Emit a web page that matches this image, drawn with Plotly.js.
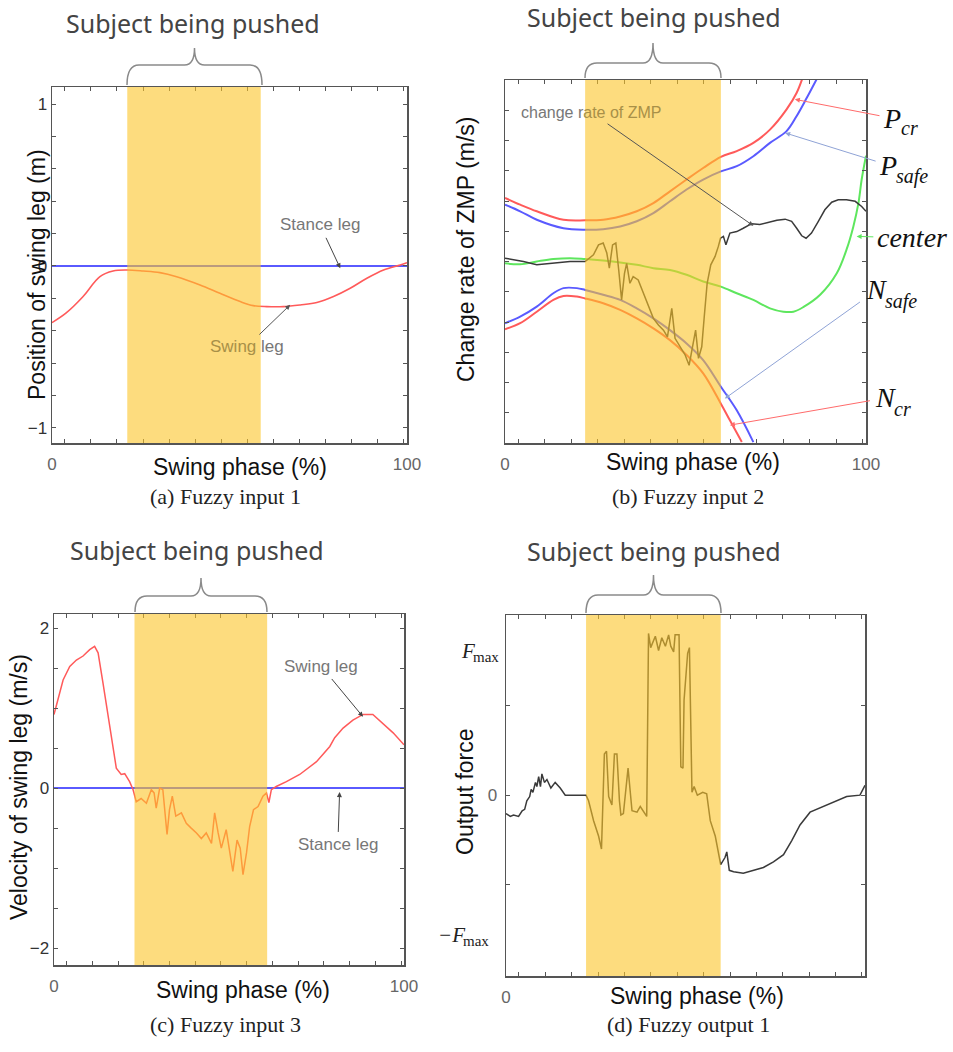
<!DOCTYPE html>
<html><head><meta charset="utf-8">
<script src="https://cdn.plot.ly/plotly-3.0.1.min.js"></script>
<style>html,body{margin:0;padding:0;background:#fff;}#chart{width:953px;height:1052px;}</style>
</head><body><div id="chart"></div>
<script>
// ================= DATA =================
// (a) Fuzzy input 1 : position of swing leg (m)
const phaseA = [0,4.0,8.7,13.5,17.2,21.0,25.7,30.4,35.1,41.7,47.3,53.0,56.7,60.5,65.2,69.9,74.6,79.3,84.0,88.7,93.4,98.1,100];
const swingPosA = [-0.35,-0.29,-0.19,-0.066,-0.031,-0.025,-0.031,-0.041,-0.066,-0.117,-0.169,-0.22,-0.245,-0.251,-0.251,-0.241,-0.226,-0.189,-0.138,-0.076,-0.025,0.006,0.02];
const stancePhase = [0,100];
const stancePosA = [0,0];
const pushA = [21.2,58.8];

// (b) Fuzzy input 2 : change rate of ZMP (m/s)
const pcrX = [0,4.2,8.8,16.2,22.2,27.2,31.9,36.5,41.1,45.7,50.3,54.9,59.8,64.2,68.8,73.4,78.0,80.8,82.6];
const pcrY = [2.10,1.88,1.66,1.38,1.36,1.38,1.49,1.66,1.93,2.32,2.71,3.09,3.46,3.65,3.92,4.36,5.03,5.58,6.13];
const psafeX = [0,4.2,8.8,16.2,22.2,27.2,31.9,36.5,41.1,45.7,50.3,54.9,59.8,64.2,68.8,73.4,78.0,80.8,83.6,86.3];
const psafeY = [1.88,1.66,1.38,1.10,1.05,1.07,1.16,1.33,1.60,1.99,2.38,2.71,2.98,3.15,3.48,3.92,4.31,4.81,5.41,6.02];
const nsafeX = [0,4.2,8.8,13.4,16.2,19.9,22.2,27.2,31.9,36.5,41.1,45.7,50.3,54.9,59.8,64.2,68.8];
const nsafeY = [-2.04,-1.82,-1.49,-1.05,-0.88,-0.88,-0.94,-1.10,-1.27,-1.55,-1.88,-2.27,-2.71,-3.26,-4.14,-4.92,-5.97];
const ncrX = [0,4.2,8.8,13.4,16.2,19.9,22.2,27.2,31.9,36.5,41.1,45.7,50.3,54.9,59.8,62.3,65.6];
const ncrY = [-2.24,-2.04,-1.66,-1.27,-1.14,-1.16,-1.22,-1.38,-1.60,-1.88,-2.21,-2.60,-3.09,-3.70,-4.70,-5.25,-5.97];
const centerX = [0,4.2,8.8,13.4,18.0,22.2,27.2,31.9,36.5,41.1,45.7,50.3,54.9,59.8,64.2,68.8,73.4,77.1,79.9,82.6,87.3,91.9,94.6,96.5,97.9,98.8,100];
const centerY = [-0.06,-0.09,0,0.08,0.11,0.08,0.03,-0.03,-0.11,-0.22,-0.28,-0.44,-0.66,-0.83,-1.05,-1.27,-1.55,-1.66,-1.66,-1.51,-1.10,-0.39,0.39,1.16,1.93,2.71,3.50];
const zmpX = [0,2.3,5.1,8.8,13.4,18.0,22.2,24.5,25.9,27.2,28.2,28.9,29.8,30.7,31.5,32.3,33.1,33.7,34.6,35.5,36.9,38.3,39.7,41.1,42.5,43.9,45.0,46.2,47.1,48.5,49.9,51.0,52.0,52.8,53.6,54.5,55.2,56.0,57.0,58.2,59.1,59.7,60.5,61.2,62.3,64.2,66.0,68.3,70.6,72.9,75.3,77.6,79.4,80.8,82.2,83.4,84.9,86.8,88.6,90.5,92.3,94.6,97.0,98.8,100];
const zmpY = [0.11,0.06,0,-0.11,-0.06,0,0,0.22,0.55,0.61,0.28,-0.22,0.55,0.61,-0.28,-1.27,-0.39,-0.06,-0.72,-0.50,-0.61,-1.05,-1.49,-1.88,-2.10,-2.27,-2.49,-1.55,-2.54,-2.82,-3.09,-3.43,-2.82,-2.27,-3.20,-2.82,-1.82,-0.72,-0.11,0.17,0.50,0.77,0.83,0.55,0.94,0.99,1.10,1.25,1.22,1.29,1.36,1.40,1.33,1.10,0.85,0.77,0.94,1.33,1.71,1.96,2.04,2.04,1.99,1.82,1.66];
const pushB = [22.2,59.8];

// (c) Fuzzy input 3 : velocity of swing leg (m/s)
const phaseC = [0,1.1,2.6,4.5,6.4,8.3,10.2,11.6,12.6,14.0,15.4,16.9,17.8,19.2,20.2,21.6,22.6,23.5,24.9,26.4,27.8,28.6,29.2,30.2,31.1,32.3,33.0,33.8,34.8,36.4,37.8,39.2,40.7,42.1,43.5,45.0,45.9,46.9,47.8,49.2,50.2,51.1,52.3,53.2,54.0,55.0,55.9,57.0,58.3,59.7,60.7,61.4,62.1,63.5,66.4,70.2,75.0,78.8,80.2,82.6,85.4,88.3,91.1,94.0,96.9,100];
const swingVelC = [0.92,1.10,1.35,1.52,1.60,1.65,1.73,1.77,1.69,1.31,0.90,0.48,0.25,0.17,0.18,0.08,-0.02,-0.17,-0.13,-0.19,-0.02,-0.06,-0.25,0,-0.02,-0.58,-0.27,-0.10,-0.35,-0.31,-0.44,-0.50,-0.56,-0.63,-0.56,-0.69,-0.31,-0.56,-0.75,-0.52,-0.81,-1.04,-0.65,-0.75,-1.08,-0.81,-0.48,-0.27,-0.23,-0.10,-0.06,-0.18,-0.02,0.02,0.08,0.17,0.33,0.52,0.63,0.75,0.85,0.92,0.92,0.81,0.69,0.54];
const stanceVelC = [0,0];
const pushC = [23.0,60.9];

// (d) Fuzzy output 1 : output force (units of F_max)
const phaseD = [0,1.2,2.1,3.5,4.5,5.2,5.8,6.6,7.0,7.5,8.2,8.6,9.1,9.6,10.0,10.7,11.4,12.5,13.7,15.1,16.5,22.3,23.0,24.4,25.8,26.6,27.4,28.0,28.6,29.5,30.2,30.9,31.6,32.0,32.7,34.0,35.1,36.5,37.4,39.2,39.7,40.3,41.6,42.5,43.4,44.4,45.3,45.9,46.7,47.1,48.2,48.7,49.3,49.6,50.6,51.1,51.8,52.4,53.3,54.8,55.9,56.9,58.3,59.2,59.8,61.0,61.5,62.2,63.4,66.1,68.9,71.7,74.5,77.3,79.6,81.9,84.7,88.4,92.6,94.9,98.6,99.5,100];
const forceD = [-0.13,-0.15,-0.14,-0.15,-0.11,-0.10,-0.04,-0.01,0.04,0.02,0.09,0.06,0.13,0.06,0.15,0.09,0.11,0.05,0.09,0.05,0,0,-0.04,-0.18,-0.29,-0.38,0.29,0.31,-0.01,-0.07,0.29,0.29,-0.04,-0.14,-0.13,0.19,-0.11,-0.12,-0.08,-0.15,1.14,1.04,1.12,1.02,1.11,1.05,1.13,1.05,1.01,1.13,1.13,0.20,0.19,0.67,1.00,1.04,0.02,0.06,0,0.02,0.01,-0.18,-0.29,-0.41,-0.49,-0.44,-0.40,-0.53,-0.54,-0.55,-0.53,-0.51,-0.47,-0.42,-0.32,-0.21,-0.12,-0.08,-0.03,-0.01,0,0.05,0.07];
const pushD = [22.3,59.8];

// tick labels
const xTickVals = [0,100];
const xTickText = ['0','100'];
const xTickValsD = [0];
const xTickTextD = ['0'];
const yTickValsA = [-1,0,1];
const yTickTextA = ['\u22121','0','1'];
const yTickValsC = [-2,0,2];
const yTickTextC = ['\u22122','0','2'];
const yTickValsD = [0];
const yTickTextD = ['0'];
const fmaxLabelVals = [1,-1];          // drawn as F / max pairs beside the axis
const fmaxLabelMain = ['F','\u2212F'];

// ================= LAYOUT HELPERS =================
const W = 953, H = 1052;
const X = p => p / W;
const Y = p => 1 - p / H;
function steps(start, step, end) {
  const v = [];
  for (let t = start; t <= end + 1e-9; t += step) v.push(Math.round(t * 1000) / 1000);
  return v;
}
const RED = '#ff5a5a', BLUE = '#5a5aff', GREEN = '#5ee65e', DARK = '#3a3a3a';
const boxAxis = {showline: true, mirror: 'ticks', linecolor: '#555', linewidth: 1.5, ticks: 'inside', ticklen: 4, tickcolor: '#555', tickwidth: 1, showgrid: false, zeroline: false, fixedrange: true, tickmode: 'array'};
function minorTicks(vals) { return {tickmode: 'array', tickvals: vals, ticks: 'inside', ticklen: 4, tickcolor: '#555', tickwidth: 1, showgrid: false}; }
function xAx(domain, anchor, vals, text) {
  return Object.assign({}, boxAxis, {domain, anchor, range: [0, 100], tickvals: vals, ticktext: text, ticklen: 0,
    minor: minorTicks(steps(3.6, 7.35, 99.9)), ticklabelstandoff: 5, tickfont: {family: 'Liberation Sans', size: 17, color: '#666'}});
}
function yAx(domain, anchor, range, vals, text, minorVals, font) {
  return Object.assign({}, boxAxis, {domain, anchor, range, tickvals: vals, ticktext: text, minor: minorTicks(minorVals),
    tickfont: font || {family: 'Liberation Sans', size: 17, color: '#333'}});
}

const layout = {
  width: W, height: H, autosize: false, margin: {l: 0, r: 0, t: 0, b: 0},
  paper_bgcolor: '#fff', plot_bgcolor: '#fff', showlegend: false,
  font: {family: 'Liberation Sans', color: '#222'},
  xaxis: xAx([X(52), X(407)], 'y', xTickVals, xTickText),
  yaxis: yAx([Y(443), Y(87)], 'x', [-1.093, 1.105], yTickValsA, yTickTextA, steps(-1, 0.2, 1)),
  xaxis2: xAx([X(505), X(866)], 'y2', xTickVals, xTickText),
  yaxis2: yAx([Y(443), Y(80)], 'x2', [-6, 6], [], [], steps(-6, 1, 6)),
  xaxis3: xAx([X(54), X(404)], 'y3', xTickVals, xTickText),
  yaxis3: yAx([Y(965), Y(614)], 'x3', [-2.21, 2.175], yTickValsC, yTickTextC, steps(-2, 0.5, 2)),
  xaxis4: xAx([X(506), X(865)], 'y4', xTickValsD, xTickTextD),
  yaxis4: yAx([Y(976), Y(615)], 'x4', [-1.275, 1.27], yTickValsD, yTickTextD, [-0.63, 0, 0.63], {family: 'Liberation Sans', size: 17, color: '#666'}),
};
layout.yaxis2.showticklabels = false;
layout.yaxis4.ticklen = 0;
layout.yaxis4.ticklabelstandoff = 4;

// push-interval shading (semi-transparent, above the lines like the original)
function shade(xr, push, yr) {
  return {type: 'rect', xref: xr, yref: yr + ' domain', x0: push[0], x1: push[1], y0: 0, y1: 1, fillcolor: 'rgb(252,197,40)', opacity: 0.6, line: {width: 0}, layer: 'above'};
}
function brace(L, R, B, Hh, T) {
  const M = (L + R) / 2;
  const p = (x, y) => X(x) + ',' + Y(y);
  return {type: 'path', xref: 'paper', yref: 'paper', line: {color: '#8a8a8a', width: 1.5},
    path: `M ${p(L, B)} Q ${p(L, Hh)} ${p(L + 12, Hh)} L ${p(M - 10, Hh)} Q ${p(M, Hh)} ${p(M, T)} Q ${p(M, Hh)} ${p(M + 10, Hh)} L ${p(R - 12, Hh)} Q ${p(R, Hh)} ${p(R, B)}`};
}
layout.shapes = [
  shade('x', pushA, 'y'), shade('x2', pushB, 'y2'), shade('x3', pushC, 'y3'), shade('x4', pushD, 'y4'),
  brace(127, 262, 85, 65, 48), brace(585, 721, 78, 63, 43), brace(135, 267, 612, 596, 578), brace(586, 721, 613, 595, 575)
];

function P(px, py, text, o) {
  return Object.assign({xref: 'paper', yref: 'paper', x: X(px), y: Y(py), text, showarrow: false, xanchor: 'center', yanchor: 'middle'}, o || {});
}
// labelled arrow: text sits at (tx,ty), arrow points to (hx,hy)
function Lab(xa, ya, text, tx, ty, hx, hy, color, font, extra) {
  return Object.assign({xref: xa, yref: ya, x: hx, y: hy, ax: tx, ay: ty, axref: xa, ayref: ya, text, showarrow: true,
    arrowhead: 2, arrowsize: 1, arrowwidth: 1, arrowcolor: color, font, startstandoff: 2}, extra || {});
}
const subj = {font: {family: 'Noto Sans', size: 25, color: '#444'}};
const titleF = {family: 'Liberation Sans', size: 23, color: '#111'};
const capF = {family: 'Liberation Serif', size: 22, color: '#222'};
const labF = {family: 'Liberation Sans', size: 17, color: '#777'};
const symF = {family: 'Liberation Serif', size: 28, color: '#111', style: 'italic'};
const subF = {family: 'Liberation Serif', size: 20, color: '#111', style: 'italic'};
const fF = {family: 'Liberation Serif', size: 21, color: '#222', style: 'italic'};
const fSubF = {family: 'Liberation Serif', size: 15, color: '#222'};
const OLIVE = '#a89048';

layout.annotations = [
  // headers
  P(193, 23, 'Subject being pushed', subj), P(654, 17, 'Subject being pushed', subj),
  P(197, 550, 'Subject being pushed', subj), P(654, 551, 'Subject being pushed', subj),
  // axis titles
  P(240, 467, 'Swing phase (%)', {font: titleF}), P(693, 462, 'Swing phase (%)', {font: titleF}),
  P(243, 990, 'Swing phase (%)', {font: titleF}), P(697, 996, 'Swing phase (%)', {font: titleF}),
  P(37, 275, 'Position of swing leg (m)', {font: titleF, textangle: -90}),
  P(466, 250, 'Change rate of ZMP (m/s)', {font: titleF, textangle: -90}),
  P(19, 787, 'Velocity of swing leg (m/s)', {font: titleF, textangle: -90}),
  P(465, 792, 'Output force', {font: titleF, textangle: -90}),
  // captions
  P(225, 497, '(a) Fuzzy input 1', {font: capF}), P(688, 497, '(b) Fuzzy input 2', {font: capF}),
  P(225, 1024, '(c) Fuzzy input 3', {font: capF}), P(688, 1024, '(d) Fuzzy output 1', {font: capF}),
  // panel a labels
  Lab('x', 'y', 'Stance leg', 75.5, 0.253, 81.2, -0.014, '#444', labF),
  Lab('x', 'y', '<span style="color:' + OLIVE + '">Swing</span> leg', 54.8, -0.50, 67.1, -0.24, '#555', labF),
  // panel b labels
  Lab('x2', 'y2', 'change r<span style="color:' + OLIVE + '">ate of ZMP</span>', 24.0, 4.92, 68.8, 1.18, '#555', {family: 'Liberation Sans', size: 16, color: '#777'}),
  Lab('x2', 'y2', 'P', 107.2, 4.74, 80.3, 5.36, '#ff6b6b', symF),
  P(899, 128, 'cr', {font: subF, xanchor: 'left'}),
  Lab('x2', 'y2', 'P', 106.1, 3.19, 77.6, 4.25, '#8fa3d6', symF),
  P(894, 176, 'safe', {font: subF, xanchor: 'left'}),
  Lab('x2', 'y2', 'center', 112.7, 0.78, 97.4, 0.83, '#5ee65e', symF),
  Lab('x2', 'y2', 'N', 103.0, -0.94, 60.9, -4.53, '#8fa3d6', symF, {startstandoff: 6}),
  P(883, 301, 'safe', {font: subF, xanchor: 'left'}),
  Lab('x2', 'y2', 'N', 105.5, -4.51, 62.3, -5.41, '#ff6b6b', symF, {startstandoff: 4}),
  P(892, 409, 'cr', {font: subF, xanchor: 'left'}),
  // panel c labels
  Lab('x3', 'y3', 'Swing leg', 76.4, 1.52, 88.3, 0.89, '#444', labF),
  Lab('x3', 'y3', 'Stance leg', 81.1, -0.71, 81.6, -0.05, '#444', labF),
];
// F_max labels of panel (d), placed against the y axis
fmaxLabelVals.forEach((v, i) => {
  const xr = i === 0 ? 477 : 467;
  layout.annotations.push({xref: 'paper', yref: 'y4', x: X(xr), y: v, yshift: 2, text: fmaxLabelMain[i], showarrow: false, xanchor: 'right', font: fF});
  layout.annotations.push({xref: 'paper', yref: 'y4', x: X(xr - 6), y: v, yshift: -4, text: 'max', showarrow: false, xanchor: 'left', font: fSubF});
});

const ln = (c, w, s) => ({color: c, width: w || 1.6, shape: s || 'linear'});
const data = [
  {x: stancePhase, y: stancePosA, xaxis: 'x', yaxis: 'y', mode: 'lines', line: ln(BLUE, 2), name: 'Stance leg'},
  {x: phaseA, y: swingPosA, xaxis: 'x', yaxis: 'y', mode: 'lines', line: ln(RED, 1.6, 'spline'), name: 'Swing leg'},
  {x: pcrX, y: pcrY, xaxis: 'x2', yaxis: 'y2', mode: 'lines', line: ln(RED, 2, 'spline'), name: 'P_cr'},
  {x: psafeX, y: psafeY, xaxis: 'x2', yaxis: 'y2', mode: 'lines', line: ln(BLUE, 2, 'spline'), name: 'P_safe'},
  {x: nsafeX, y: nsafeY, xaxis: 'x2', yaxis: 'y2', mode: 'lines', line: ln(BLUE, 2, 'spline'), name: 'N_safe'},
  {x: ncrX, y: ncrY, xaxis: 'x2', yaxis: 'y2', mode: 'lines', line: ln(RED, 2, 'spline'), name: 'N_cr'},
  {x: centerX, y: centerY, xaxis: 'x2', yaxis: 'y2', mode: 'lines', line: ln(GREEN, 2, 'spline'), name: 'center'},
  {x: zmpX, y: zmpY, xaxis: 'x2', yaxis: 'y2', mode: 'lines', line: ln(DARK, 1.5), name: 'change rate of ZMP'},
  {x: stancePhase, y: stanceVelC, xaxis: 'x3', yaxis: 'y3', mode: 'lines', line: ln(BLUE, 2), name: 'Stance leg'},
  {x: phaseC, y: swingVelC, xaxis: 'x3', yaxis: 'y3', mode: 'lines', line: ln(RED, 1.5), name: 'Swing leg'},
  {x: phaseD, y: forceD, xaxis: 'x4', yaxis: 'y4', mode: 'lines', line: ln(DARK, 1.5), name: 'Output force'},
];

Plotly.newPlot('chart', data, layout, {displayModeBar: false, staticPlot: true});
</script></body></html>
